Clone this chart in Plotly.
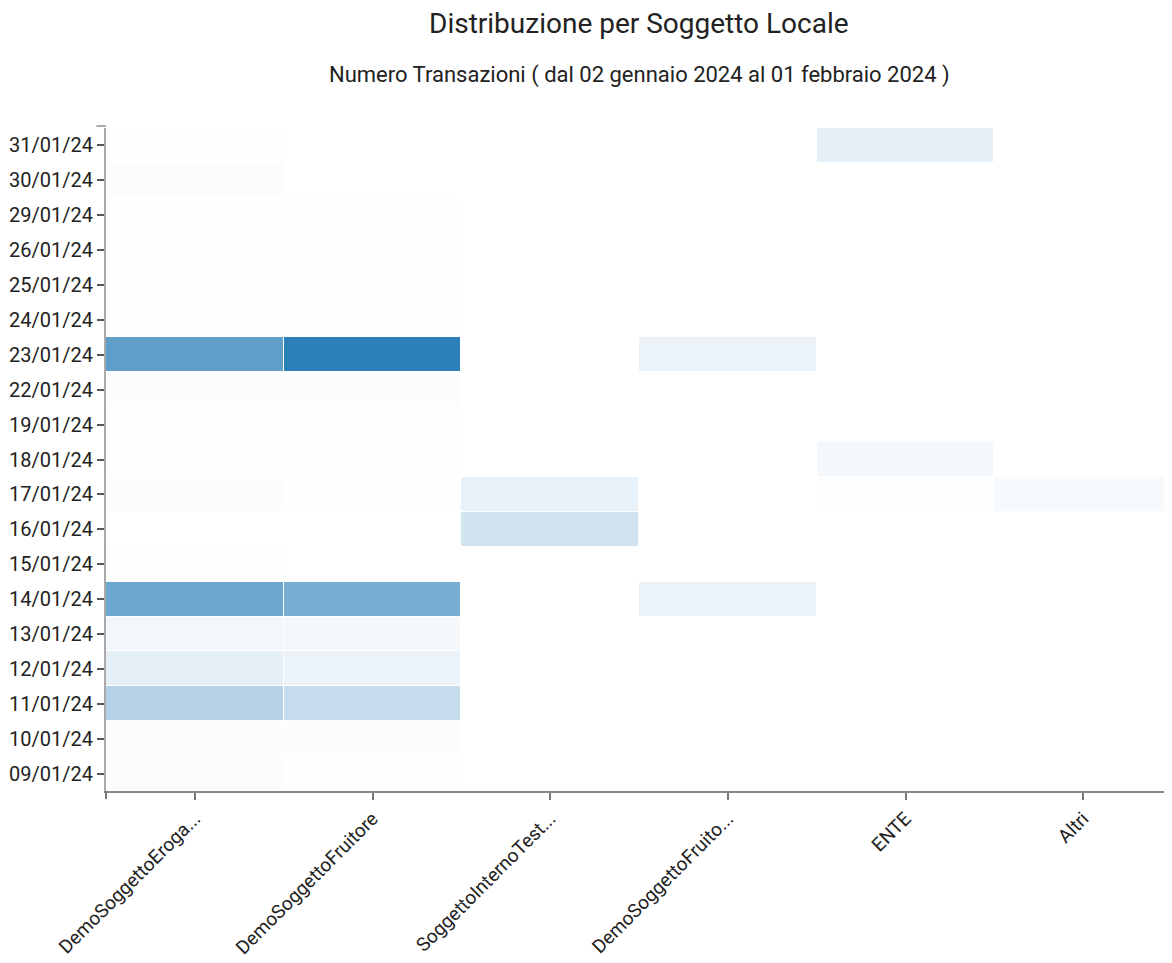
import plotly.graph_objects as go

dates = ["09/01/24", "10/01/24", "11/01/24", "12/01/24", "13/01/24", "14/01/24",
         "15/01/24", "16/01/24", "17/01/24", "18/01/24", "19/01/24", "22/01/24",
         "23/01/24", "24/01/24", "25/01/24", "26/01/24", "29/01/24", "30/01/24",
         "31/01/24"]

soggetti = ["DemoSoggettoEroga...", "DemoSoggettoFruitore", "SoggettoInternoTest...",
            "DemoSoggettoFruito...", "ENTE", "Altri"]

# values per soggetto, ordered like `dates` (None = no transactions)
demo_erogatore = [10, 10, 165, 60, 30, 325, 5, None, 10, 5, 5, 10, 360, 5, 5, 5, 5, 10, 5]
demo_fruitore = [5, 10, 130, 45, 25, 300, None, None, 5, 2, 3, 10, 470, 3, 3, 3, 5, None, None]
soggetto_interno = [None, None, None, None, None, None, None, 105, 50, None, None, None,
                    None, None, None, None, None, None, None]
demo_fruitore2 = [None, None, None, None, None, 45, None, None, None, None, None, None,
                  45, None, None, None, None, None, None]
ente = [None, None, None, None, None, None, None, None, 8, 25, None, None,
        None, None, None, None, None, None, 55]
altri = [None, None, None, None, None, None, None, None, 20, None, None, None,
         None, None, None, None, None, None, None]

title_text = "Distribuzione per Soggetto Locale"
subtitle_text = "Numero Transazioni ( dal 02 gennaio 2024 al 01 febbraio 2024 )"

series = [demo_erogatore, demo_fruitore, soggetto_interno, demo_fruitore2, ente, altri]
z = [[series[c][r] for c in range(len(soggetti))] for r in range(len(dates))]

fig = go.Figure(go.Heatmap(
    x=soggetti, y=dates, z=z,
    colorscale=[[0, "#ffffff"], [1, "#1f78b4"]],
    zmin=0, zmax=500,
    showscale=False, xgap=1, ygap=1, hoverongaps=False,
))

fig.update_layout(
    width=1164, height=955,
    margin=dict(l=98, r=0, t=120, b=172),
    paper_bgcolor="white", plot_bgcolor="white",
    font=dict(family="Roboto, sans-serif", color="#222222"),
    xaxis=dict(
        type="category", showgrid=False, zeroline=False, automargin=False,
        showline=True, linecolor="#888888", linewidth=2,
        ticks="outside", ticklen=7, tickwidth=2, tickcolor="#777777",
        tickangle=-45, tickfont=dict(family="Roboto, sans-serif", size=19, color="#222222"),
        fixedrange=True,
    ),
    yaxis=dict(
        type="category", showgrid=False, zeroline=False, automargin=False,
        showline=True, linecolor="#aaaaaa", linewidth=2,
        ticks="outside", ticklen=7, tickwidth=2, tickcolor="#555555",
        tickfont=dict(family="Roboto, sans-serif", size=20, color="#222222"),
        fixedrange=True,
    ),
    annotations=[
        dict(text=title_text, xref="paper", yref="paper", x=0.5, y=1.157,
             xanchor="center", yanchor="middle", showarrow=False,
             font=dict(size=28, color="#222222", family="Roboto, sans-serif")),
        dict(text=subtitle_text, xref="paper", yref="paper", x=0.5, y=1.08,
             xanchor="center", yanchor="middle", showarrow=False,
             font=dict(size=22, color="#222222", family="Roboto, sans-serif")),
    ],
)

# D3-style outer ticks at the axis ends
fig.add_shape(type="line", xref="paper", yref="paper", x0=-0.009, x1=0, y0=1.003, y1=1.003,
              line=dict(color="#aaaaaa", width=2))
fig.add_shape(type="line", xref="paper", yref="paper", x0=0, x1=0, y0=0, y1=-0.012,
              line=dict(color="#777777", width=2))

fig.write_html("out.html")
